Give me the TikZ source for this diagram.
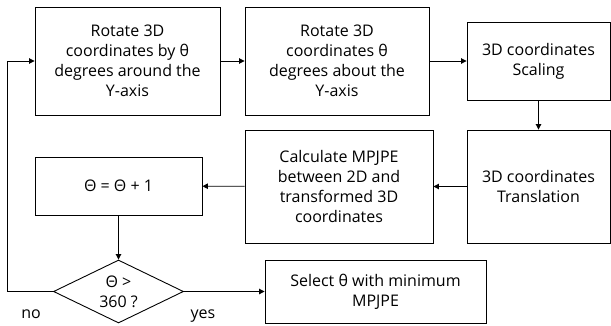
\documentclass[tikz,border=0pt]{standalone}
\usepackage{fontspec}
\setmainfont{Open Sans}
\usetikzlibrary{arrows.meta,shapes.geometric}
\begin{document}
\begin{tikzpicture}[x=1pt, y=-1pt, line width=0.9pt,
    >={Triangle[length=5.5pt,width=5.5pt]},
    box/.style={draw, align=center, inner sep=2pt, font=\fontsize{16}{20}\selectfont},
    decision/.style={draw, diamond, aspect=2.06, inner sep=0pt, align=center, font=\fontsize{16}{20}\selectfont},
    tag/.style={font=\fontsize{16}{20}\selectfont}]
    \useasboundingbox (0,0) rectangle (611,325);
    % top row
    \node[box, minimum width=185pt, minimum height=108pt] (rotby) at (127.5,61) {Rotate 3D\\coordinates by θ\\degrees around the\\Y-axis};
    \node[box, minimum width=184pt, minimum height=108pt] (rotabout) at (337,61) {Rotate 3D\\coordinates θ\\degrees about the\\Y-axis};
    \node[box, minimum width=143pt, minimum height=78pt] (scale) at (538.5,61) {3D coordinates\\Scaling};
    % middle row
    \node[box, minimum width=143pt, minimum height=113pt] (transl) at (538.5,186.5) {3D coordinates\\Translation};
    \node[box, minimum width=188pt, minimum height=113pt] (mpjpe) at (339,186.5) {Calculate MPJPE\\between 2D and\\transformed 3D\\coordinates};
    \node[box, minimum width=167pt, minimum height=58pt] (incr) at (118.5,186) {Θ = Θ + 1};
    % bottom row
    \node[decision, minimum width=130pt, minimum height=63pt] (check) at (118.5,291.5) {Θ >\\360 ?};
    \node[box, minimum width=221pt, minimum height=63pt] (select) at (375.5,291.5) {Select θ with minimum\\MPJPE};
    \node[tag] (no) at (31,314) {no};
    \node[tag] (yes) at (203,316) {yes};
    \coordinate (loop) at (7,291.5);
    % connectors
    \draw[->] (rotby) -- (rotabout);
    \draw[->] (rotabout) -- (scale);
    \draw[->] (scale) -- (transl);
    \draw[->] (transl) -- (mpjpe);
    \draw[->] (mpjpe) -- (incr);
    \draw[->] (incr) -- (check);
    \draw[->] (check) -- (select);
    \draw[->] (check.west) -- (loop) |- (rotby.west);
\end{tikzpicture}
\end{document}
